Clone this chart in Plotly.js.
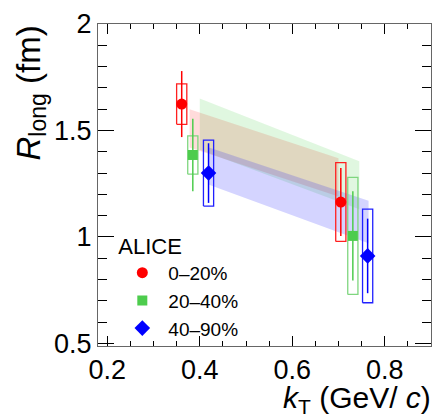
<!DOCTYPE html>
<html>
<head>
<meta charset="utf-8">
<script src="https://cdn.plot.ly/plotly-3.0.1.min.js"></script>
<style>html,body{margin:0;padding:0;background:#fff;}#chart{width:433px;height:416px;}</style>
</head>
<body>
<div id="chart"></div>
<script>
// Centrality classes
const classes = ["0–20%", "20–40%", "40–90%"];
const colors = ["#ff0000", "#4dcc4d", "#0000ff"];
const boxColors = ["#ff2020", "#7fd67f", "#2020ff"];
const bandColors = ["rgba(255,0,0,0.14)", "rgba(0,190,0,0.12)", "rgba(0,0,255,0.17)"];
const symbols = ["circle", "square", "diamond"];
const sizes = [11, 10, 12];

// kT values (GeV/c)
const kT_0_20 = [0.361, 0.705];
const kT_20_40 = [0.385, 0.731];
const kT_40_90 = [0.419, 0.763];
// R_long (fm)
const R_0_20 = [1.624, 1.164];
const R_20_40 = [1.385, 1.005];
const R_40_90 = [1.300, 0.911];
// statistical errors
const stat_0_20 = [0.155, 0.160];
const stat_20_40 = [0.170, 0.210];
const stat_40_90 = [0.140, 0.175];
// systematic errors
const sys_0_20 = [0.095, 0.185];
const sys_20_40 = [0.090, 0.275];
const sys_40_90 = [0.155, 0.220];
const sysHalfWidth = 0.011;

// model bands: kT edges, upper edge, lower edge
const bandX_0_20 = [0.378, 0.700];
const bandTop_0_20 = [1.60, 1.37];
const bandBot_0_20 = [1.42, 1.19];
const bandX_20_40 = [0.400, 0.745];
const bandTop_20_40 = [1.65, 1.355];
const bandBot_20_40 = [1.41, 1.13];
const bandX_40_90 = [0.420, 0.765];
const bandTop_40_90 = [1.42, 1.17];
const bandBot_40_90 = [1.245, 0.97];

const xTitle = "<i>k</i><sub>T</sub> (GeV/ <i>c</i>)";
const yTitle = "<i>R</i><sub>long</sub> (fm)";

const kTs = [kT_0_20, kT_20_40, kT_40_90];
const Rs = [R_0_20, R_20_40, R_40_90];
const stats = [stat_0_20, stat_20_40, stat_40_90];
const syss = [sys_0_20, sys_20_40, sys_40_90];
const bandXs = [bandX_0_20, bandX_20_40, bandX_40_90];
const bandTops = [bandTop_0_20, bandTop_20_40, bandTop_40_90];
const bandBots = [bandBot_0_20, bandBot_20_40, bandBot_40_90];

const traces = [];
for (let i = 0; i < 3; i++) {
  const bx = bandXs[i], bt = bandTops[i], bb = bandBots[i];
  traces.push({
    x: [bx[0], bx[1], bx[1], bx[0], bx[0]],
    y: [bt[0], bt[1], bb[1], bb[0], bt[0]],
    mode: "lines", fill: "toself", fillcolor: bandColors[i],
    line: {width: 0}, showlegend: false, hoverinfo: "skip"
  });
}
for (let i = 0; i < 3; i++) {
  const xs = [], ys = [];
  kTs[i].forEach((k, j) => {
    const lo = Rs[i][j] - syss[i][j], hi = Rs[i][j] + syss[i][j];
    xs.push(k - sysHalfWidth, k + sysHalfWidth, k + sysHalfWidth, k - sysHalfWidth, k - sysHalfWidth, null);
    ys.push(lo, lo, hi, hi, lo, null);
  });
  traces.push({
    x: xs, y: ys, mode: "lines", line: {color: boxColors[i], width: 1.3},
    showlegend: false, hoverinfo: "skip"
  });
}
for (let i = 0; i < 3; i++) {
  traces.push({
    x: kTs[i], y: Rs[i], mode: "markers", name: classes[i],
    marker: {symbol: symbols[i], size: sizes[i], color: colors[i]},
    error_y: {type: "data", array: stats[i], color: colors[i], thickness: 1.5, width: 0}
  });
}

const font = {family: "Liberation Sans, Arial, sans-serif", color: "#000"};
const layout = {
  width: 433, height: 416,
  margin: {l: 98, r: 2, t: 24, b: 70},
  paper_bgcolor: "#fff", plot_bgcolor: "#fff",
  font: Object.assign({size: 19}, font),
  showlegend: true,
  legend: {
    x: 0.055, y: 0.375, xanchor: "left", yanchor: "top",
    bgcolor: "rgba(0,0,0,0)", itemwidth: 42,
    font: Object.assign({size: 19}, font),
    title: {text: "ALICE", font: Object.assign({size: 22}, font)},
    tracegroupgap: 0
  },
  annotations: [
    {text: xTitle, xref: "paper", yref: "paper", x: 1.005, y: -0.165,
     xanchor: "right", yanchor: "middle", showarrow: false,
     font: Object.assign({size: 30}, font)},
    {text: yTitle, xref: "paper", yref: "paper", x: -0.204, y: 1.0,
     xanchor: "center", yanchor: "top", textangle: -90, showarrow: false,
     font: Object.assign({size: 33}, font)}
  ],
  xaxis: {
    range: [0.18, 0.9], showgrid: false, zeroline: false,
    showline: true, linecolor: "#666", linewidth: 1, mirror: "allticks",
    ticks: "inside", ticklen: 10, tickcolor: "#000", tickwidth: 1,
    tickvals: [0.2, 0.4, 0.6, 0.8], ticktext: ["0.2", "0.4", "0.6", "0.8"],
    tickfont: Object.assign({size: 27}, font),
    minor: {dtick: 0.05, tick0: 0, ticks: "inside", ticklen: 5, tickcolor: "#000"}
  },
  yaxis: {
    range: [0.488, 2.0], showgrid: false, zeroline: false,
    showline: true, linecolor: "#666", linewidth: 1, mirror: "allticks",
    ticks: "inside", ticklen: 16, tickcolor: "#000", tickwidth: 1,
    tickvals: [0.5, 1, 1.5, 2], ticktext: ["0.5", "1", "1.5", "2"],
    tickfont: Object.assign({size: 27}, font),
    minor: {dtick: 0.1, tick0: 0, ticks: "inside", ticklen: 9, tickcolor: "#000"}
  }
};
Plotly.newPlot("chart", traces, layout, {staticPlot: true, displayModeBar: false});
</script>
</body>
</html>
